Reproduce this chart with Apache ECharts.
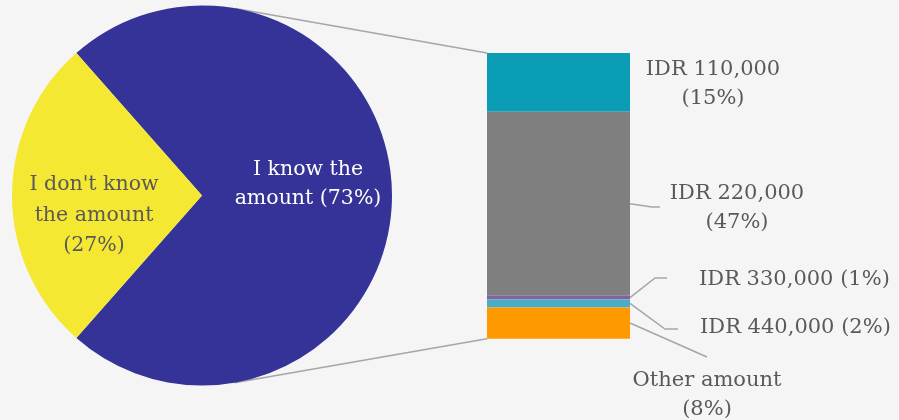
<!DOCTYPE html>
<html>
<head>
<meta charset="utf-8">
<script src="https://cdn.jsdelivr.net/npm/echarts@6/dist/echarts.min.js"></script>
<style>
  html, body { margin: 0; padding: 0; background: #f5f5f5; }
  #chart { width: 899px; height: 420px; }
</style>
</head>
<body>
<div id="chart"></div>
<script>
// Awareness of the amount (pie)
const pieNames = ['I know the\namount', "I don't know\nthe amount"];
const pieValues = [73, 27];
const pieColors = ['#353397', '#F5E833'];

// Breakdown of the known amounts (stacked bar), in % of all respondents
const amountNames = ['IDR 110,000', 'IDR 220,000', 'IDR 330,000', 'IDR 440,000', 'Other amount'];
const amountValues = [15, 47, 1, 2, 8];
const amountColors = ['#0A9DB5', '#7F7F7F', '#8064A2', '#4BACC6', '#FF9900'];

// Layout of the labels beside the bar
const amountLabelJoin = ['\n', '\n', ' ', ' ', '\n'];
const amountLabelAlign = ['center', 'center', 'left', 'left', 'center'];
const amountLabelDX = [83, 107, 69, 70, 77];
const amountLabelY = [84, 208, 280, 328, 395];
// leader lines: [bendDX, bendY, endDX]
const leaderShapes = [null, [22, 207, 30], [25, 278, 37], [35, 329, 48], [77, 357, null]];

const FONT = 'DejaVu Serif';
const TEXT = '#595959';
const LINE = '#A6A6A6';
const pieCenter = [202, 195.5];
const pieRadius = 190;
const knownShare = pieValues[0];
const startAngle = 180 - (pieValues[1] * 3.6) / 2;

const chart = echarts.init(document.getElementById('chart'), null, { renderer: 'canvas' });

const barSeries = amountValues.map((v, i) => ({
  type: 'bar',
  name: amountNames[i],
  stack: 'amount',
  data: [v],
  barWidth: '100%',
  silent: true,
  itemStyle: { color: amountColors[i] },
  label: {
    show: true,
    formatter: () => amountNames[i] + amountLabelJoin[i] + '(' + v + '%)',
    color: TEXT,
    fontFamily: FONT,
    fontSize: 21,
    lineHeight: 29
  },
  labelLayout: (p) => ({
    x: p.rect.x + p.rect.width + amountLabelDX[i],
    y: amountLabelY[i],
    align: amountLabelAlign[i],
    verticalAlign: 'middle'
  })
}));

chart.setOption({
  backgroundColor: '#f5f5f5',
  animation: false,
  grid: { left: 487, top: 53, width: 143, height: 285.7 },
  xAxis: { type: 'category', data: ['amount'], show: false },
  yAxis: { type: 'value', min: 0, max: knownShare, inverse: true, show: false },
  series: [
    {
      type: 'pie',
      center: pieCenter,
      radius: pieRadius,
      startAngle: startAngle,
      clockwise: true,
      silent: true,
      label: {
        show: true,
        position: 'inside',
        fontFamily: FONT,
        fontSize: 20.5,
        lineHeight: 29
      },
      labelLine: { show: false },
      data: pieValues.map((v, i) => ({
        name: pieNames[i],
        value: v,
        itemStyle: { color: pieColors[i] },
        label: i === 0
          ? { formatter: pieNames[i] + ' (' + v + '%)', color: '#ffffff', offset: [8, -11] }
          : { formatter: pieNames[i] + '\n(' + v + '%)', color: TEXT, offset: [-10, 20], lineHeight: 30.5 }
      }))
    }
  ].concat(barSeries)
});

// Connector and leader lines, placed from the rendered bar and pie geometry
function tangentPoint(p, sign) {
  const dx = p[0] - pieCenter[0], dy = p[1] - pieCenter[1];
  const a = Math.atan2(dy, dx);
  const b = Math.acos(pieRadius / Math.hypot(dx, dy));
  const t = a + sign * b;
  return [pieCenter[0] + pieRadius * Math.cos(t), pieCenter[1] + pieRadius * Math.sin(t)];
}

const rect = chart.getModel().getComponent('grid', 0).coordinateSystem.getRect();
const barLeft = rect.x, barRight = rect.x + rect.width;
const yTop = chart.convertToPixel({ yAxisIndex: 0 }, 0);
const yBottom = chart.convertToPixel({ yAxisIndex: 0 }, knownShare);
const topT = tangentPoint([barLeft, yTop], -1);
const botT = tangentPoint([barLeft, yBottom], 1);

const graphics = [
  { type: 'line', shape: { x1: topT[0], y1: topT[1], x2: barLeft, y2: yTop }, style: { stroke: LINE, lineWidth: 1.5 }, silent: true },
  { type: 'line', shape: { x1: botT[0], y1: botT[1], x2: barLeft, y2: yBottom }, style: { stroke: LINE, lineWidth: 1.5 }, silent: true }
];

let cum = 0;
amountValues.forEach((v, i) => {
  const mid = chart.convertToPixel({ yAxisIndex: 0 }, cum + v / 2);
  cum += v;
  const s = leaderShapes[i];
  if (!s) return;
  const pts = [[barRight, mid], [barRight + s[0], s[1]]];
  if (s[2] != null) pts.push([barRight + s[2], s[1]]);
  graphics.push({ type: 'polyline', shape: { points: pts }, style: { stroke: LINE, lineWidth: 1.5, fill: null }, silent: true });
});

chart.setOption({ graphic: graphics });
</script>
</body>
</html>
